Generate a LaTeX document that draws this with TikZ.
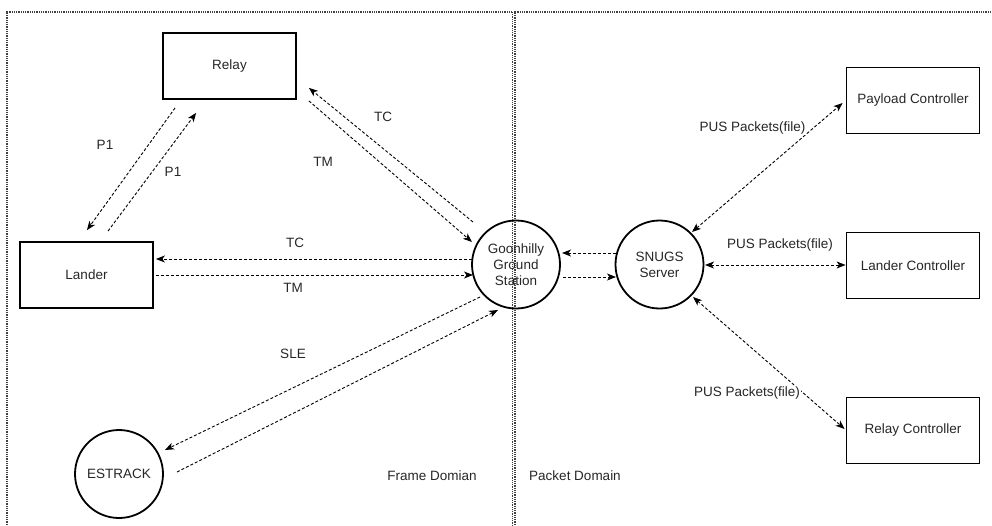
\documentclass[tikz,border=0pt]{standalone}
\usepackage{fontspec}
\setmainfont{Liberation Sans}
\usetikzlibrary{arrows.meta,calc}
\begin{document}
\begin{tikzpicture}[x=1pt,y=-1pt,
  every node/.style={font=\fontsize{13.5}{16}\selectfont, text=black!85},
  boxnode/.style={draw, line width=1.8pt, minimum width=133pt, minimum height=66pt, inner sep=0pt},
  circnode/.style={draw, circle, line width=1.8pt, minimum size=88pt, inner sep=0pt, align=center},
  frame/.style={draw=black!75, line width=1.6pt, dash pattern=on 1pt off 0.8pt},
  conn/.style={line width=0.9pt, dash pattern=on 3pt off 2pt, -{Stealth[length=9pt,width=7pt,inset=2.5pt]}},
  biconn/.style={line width=0.9pt, dash pattern=on 3pt off 2pt, {Stealth[length=9pt,width=7pt,inset=2.5pt]}-{Stealth[length=9pt,width=7pt,inset=2.5pt]}},
  lbl/.style={inner sep=1pt},
  wlbl/.style={inner sep=1pt, fill=white}
]
\useasboundingbox (0,0) rectangle (992,525);
% frames
\draw[frame] (7,545) -- (7,12) -- (512.5,12) -- (512.5,545);
\draw[frame] (515,545) -- (515,12) -- (1000,12);

% nodes
\node[boxnode] (relay) at (229.5,66) {Relay};
\node[boxnode] (lander) at (86.5,275) {Lander};
\node[circnode] (estrack) at (119,474) {ESTRACK};
\node[circnode] (goon) at (516,264.5) {Goonhilly\\Ground\\Station};
\node[circnode] (snugs) at (659.5,264.5) {SNUGS\\Server};
\node[boxnode] (payc) at (913,100.5) {Payload Controller};
\node[boxnode] (landc) at (913,265.5) {Lander Controller};
\node[boxnode] (relc) at (913,430.5) {Relay Controller};

% P1 links
\draw[conn] ($(relay.south west)+(13,8)$) -- ($(lander.north)+(0.5,-11)$);
\draw[conn] ($(lander.north)+(21.5,-10)$) -- ($(relay.south west)+(34,13)$);
% Relay - Goonhilly
\draw[conn] ($(goon)+(-43,-42.5)$) -- ($(relay.south east)+(12,-12)$);
\draw[conn] ($(relay.south east)+(12,1)$) -- ($(goon)+(-44,-22.5)$);
% Lander - Goonhilly
\draw[conn] ($(goon)+(-44,-5.5)$) -- ($(lander.east)+(2,-16)$);
\draw[conn] ($(lander.east)+(2,0)$) -- ($(goon)+(-43,10.5)$);
% ESTRACK - Goonhilly
\draw[conn] ($(goon)+(-36,32.5)$) -- ($(estrack)+(46,-24)$);
\draw[conn] ($(estrack)+(58,-2)$) -- ($(goon)+(-18,45.5)$);
% Goonhilly - SNUGS
\draw[conn] ($(snugs)+(-43.5,-11.5)$) -- ($(goon)+(46,-11.5)$);
\draw[conn] ($(goon)+(47,12.5)$) -- ($(snugs)+(-43.5,12.5)$);
% SNUGS - controllers
\draw[biconn] ($(snugs)+(32.5,-32.5)$) -- ($(payc.west)+(-3,2.5)$);
\draw[biconn] ($(snugs)+(45.5,0.5)$) -- ($(landc.west)+(0,-0.5)$);
\draw[biconn] ($(snugs)+(33.5,32.5)$) -- ($(relc.west)+(-1,-1.5)$);

% labels
\node[lbl] (lp1a) at (105,145) {P1};
\node[lbl] (lp1b) at (173,172) {P1};
\node[lbl] (ltc1) at (383,117) {TC};
\node[lbl] (ltm1) at (323,162) {TM};
\node[lbl] (ltc2) at (295,243) {TC};
\node[lbl] (ltm2) at (293,288) {TM};
\node[lbl] (lsle) at (293,354) {SLE};
\node[wlbl] (lpus1) at (752.5,128) {PUS Packets(file)};
\node[wlbl] (lpus2) at (780,245) {PUS Packets(file)};
\node[wlbl] (lpus3) at (747,393) {PUS Packets(file)};
\node[lbl] (lframe) at (432,476) {Frame Domian};
\node[lbl] (lpacket) at (575,476) {Packet Domain};
\end{tikzpicture}
\end{document}
